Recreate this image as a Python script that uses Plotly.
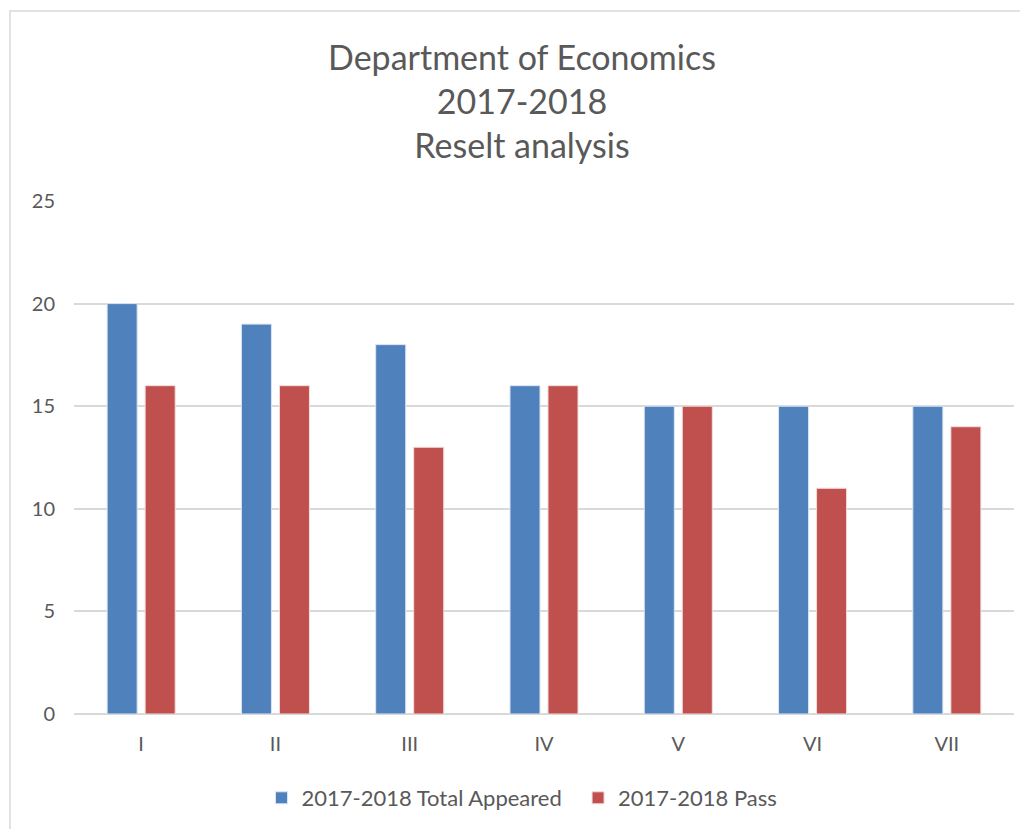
import plotly.graph_objects as go

categories = ["I", "II", "III", "IV", "V", "VI", "VII"]
total_appeared = [20, 19, 18, 16, 15, 15, 15]
passed = [16, 16, 13, 16, 15, 11, 14]
series_names = ["2017-2018 Total Appeared", "2017-2018 Pass"]
title_lines = ["Department of Economics", "2017-2018", "Reselt analysis"]

W, H = 1028, 829
OFF = 8  # page body margin
L, R, T = 74 - OFF, 22, 201 - OFF
pw = W - L - R
ph = 513
B = H - T - ph

FONT = "Lato"
GREY = "#595959"

fig = go.Figure()
fig.add_trace(go.Bar(x=categories, y=total_appeared, name=series_names[0] + "  ",
                     marker=dict(color="#4f81bd", line=dict(color="#dbe5f1", width=1))))
fig.add_trace(go.Bar(x=categories, y=passed, name=series_names[1],
                     marker=dict(color="#c0504d", line=dict(color="#f2dcdb", width=1))))

fig.update_layout(
    width=W, height=H,
    margin=dict(l=L, r=R, t=T, b=B),
    paper_bgcolor="white", plot_bgcolor="white",
    barmode="group", bargap=0.434, bargroupgap=0.21,
    font=dict(family=FONT, color=GREY),
    title=dict(text="<br>".join(title_lines), x=0.5, xanchor="center",
               y=(H - 62) / H, yanchor="top",
               font=dict(family=FONT, size=34, color=GREY)),
    xaxis=dict(showgrid=False, showline=False, ticks="", ticklabelstandoff=16,
               tickfont=dict(size=20, color=GREY, family=FONT)),
    yaxis=dict(range=[0, 25], dtick=5, showgrid=True, gridcolor="#d9d9d9",
               gridwidth=1.5, zeroline=True, zerolinecolor="#d9d9d9", zerolinewidth=1.5,
               showline=False, ticks="", ticklabelstandoff=18,
               tickfont=dict(size=20, color=GREY, family=FONT)),
    legend=dict(orientation="h", x=0.5 - 22 / pw, xanchor="center", y=-(798 - 714) / ph,
                yanchor="middle", font=dict(size=22, color=GREY, family=FONT),
                itemwidth=30, traceorder="normal", tracegroupgap=0),
    showlegend=True,
)

fig.add_shape(type="rect", xref="paper", yref="paper",
              x0=(10 - OFF - L) / pw, x1=(W + 20 - L) / pw,
              y0=-(H + 20 - (T + ph)) / ph, y1=(T + ph - (11 - OFF)) / ph,
              line=dict(color="#d9d9d9", width=1.5), fillcolor="rgba(0,0,0,0)", layer="below")

fig.write_html("out.html")
